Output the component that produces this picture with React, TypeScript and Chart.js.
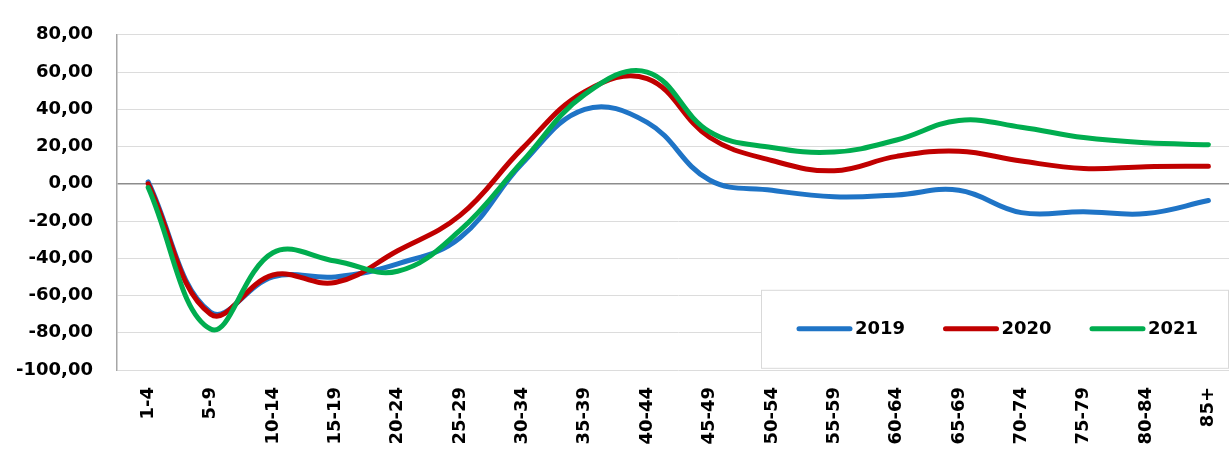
import React, { useEffect, useRef } from 'react';
import { Chart, registerables } from 'chart.js';

Chart.register(...registerables);

const CATEGORIES = ['1-4', '5-9', '10-14', '15-19', '20-24', '25-29', '30-34', '35-39', '40-44', '45-49', '50-54', '55-59', '60-64', '65-69', '70-74', '75-79', '80-84', '85+'];
const SERIES_LABELS = ['2019', '2020', '2021'];
const VALUES_2019 = [1, -69, -50, -50, -43, -29, 11, 40, 33, 2, -3.5, -7, -6, -3.5, -15.5, -15, -16, -9];
const VALUES_2020 = [0, -70, -49, -53, -36, -17, 19, 49.5, 56.5, 25, 12.5, 7, 14.7, 17.5, 12.2, 8.2, 9.2, 9.4];
const VALUES_2021 = [-2, -78, -37, -41.5, -47, -25, 12, 48, 60, 28, 19.5, 17, 23.5, 34, 30.4, 24.8, 22, 21];
const Y_TICK_VALUES = [80, 60, 40, 20, 0, -20, -40, -60, -80, -100];
const Y_TICK_LABELS = ['80,00', '60,00', '40,00', '20,00', '0,00', '-20,00', '-40,00', '-60,00', '-80,00', '-100,00'];

const COLORS = ['#1f74c6', '#c00000', '#00ad4f'];
const FONT = '"DejaVu Sans", sans-serif';

const boxLegend = {
  id: 'boxLegend',
  afterDraw(chart: any) {
    const { ctx, chartArea } = chart;
    const left = chartArea.left + 644;
    const top = chartArea.top + 255;
    const w = 467;
    const h = 78;
    ctx.save();
    ctx.fillStyle = '#ffffff';
    ctx.fillRect(left, top, w, h);
    ctx.strokeStyle = '#d9d9d9';
    ctx.lineWidth = 1;
    ctx.strokeRect(left + 0.5, top + 0.5, w, h);
    let x = left + 36;
    const y = top + 39;
    ctx.font = `bold 18px ${FONT}`;
    ctx.textBaseline = 'middle';
    ctx.textAlign = 'left';
    chart.data.datasets.forEach((ds: any) => {
      ctx.strokeStyle = ds.borderColor;
      ctx.lineWidth = 5;
      ctx.lineCap = 'round';
      ctx.beginPath();
      ctx.moveTo(x + 2, y);
      ctx.lineTo(x + 53, y);
      ctx.stroke();
      ctx.fillStyle = '#000000';
      ctx.fillText(ds.label, x + 58, y + 1);
      x += 146.5;
    });
    ctx.restore();
  },
};

export default function App() {
  const canvasRef = useRef<HTMLCanvasElement | null>(null);

  useEffect(() => {
    if (!canvasRef.current) return;
    const series = [VALUES_2019, VALUES_2020, VALUES_2021];
    const chart = new Chart(canvasRef.current, {
      type: 'line',
      data: {
        labels: CATEGORIES,
        datasets: series.map((vals, i) => ({
          label: SERIES_LABELS[i],
          data: vals,
          borderColor: COLORS[i],
          backgroundColor: COLORS[i],
          borderWidth: 5,
          pointRadius: 0,
          pointHoverRadius: 0,
          tension: 0.4,
          fill: false,
          order: 3 - i,
          borderCapStyle: 'round',
          borderJoinStyle: 'round',
        })),
      },
      options: {
        animation: false,
        responsive: true,
        maintainAspectRatio: false,
        layout: { padding: { top: 25, left: 0, right: 0, bottom: 0 } },
        plugins: {
          legend: { display: false },
          tooltip: { enabled: false },
        },
        scales: {
          x: {
            type: 'category',
            offset: true,
            afterFit: (s: any) => { s.height = 80; },
            grid: { display: false, drawTicks: false },
            border: { display: false },
            ticks: {
              autoSkip: false,
              maxRotation: 90,
              minRotation: 90,
              padding: 17,
              color: '#000000',
              font: { family: FONT, size: 18, weight: 'bold' },
            },
          },
          y: {
            min: -100,
            max: 80,
            afterFit: (s: any) => { s.width = 117; },
            ticks: {
              stepSize: 20,
              padding: 24,
              color: '#000000',
              font: { family: FONT, size: 18, weight: 'bold' },
              callback: (v: any) => {
                const idx = Y_TICK_VALUES.indexOf(Number(v));
                return idx >= 0 ? Y_TICK_LABELS[idx] : '';
              },
            },
            grid: {
              drawTicks: false,
              color: (c: any) => (c.tick && c.tick.value === 0 ? '#8c8c8c' : '#dcdcdc'),
              lineWidth: (c: any) => (c.tick && c.tick.value === 0 ? 1.5 : 1),
            },
            border: { display: true, color: '#a6a6a6', width: 1.5 },
          },
        },
      },
      plugins: [boxLegend],
    } as any);
    return () => chart.destroy();
  }, []);

  return (
    <div style={{ position: 'fixed', left: 0, top: 0, width: 1229, height: 450, overflow: 'hidden', background: '#ffffff' }}>
      <div style={{ position: 'relative', width: 1247, height: 450 }}>
        <canvas ref={canvasRef} />
      </div>
    </div>
  );
}
